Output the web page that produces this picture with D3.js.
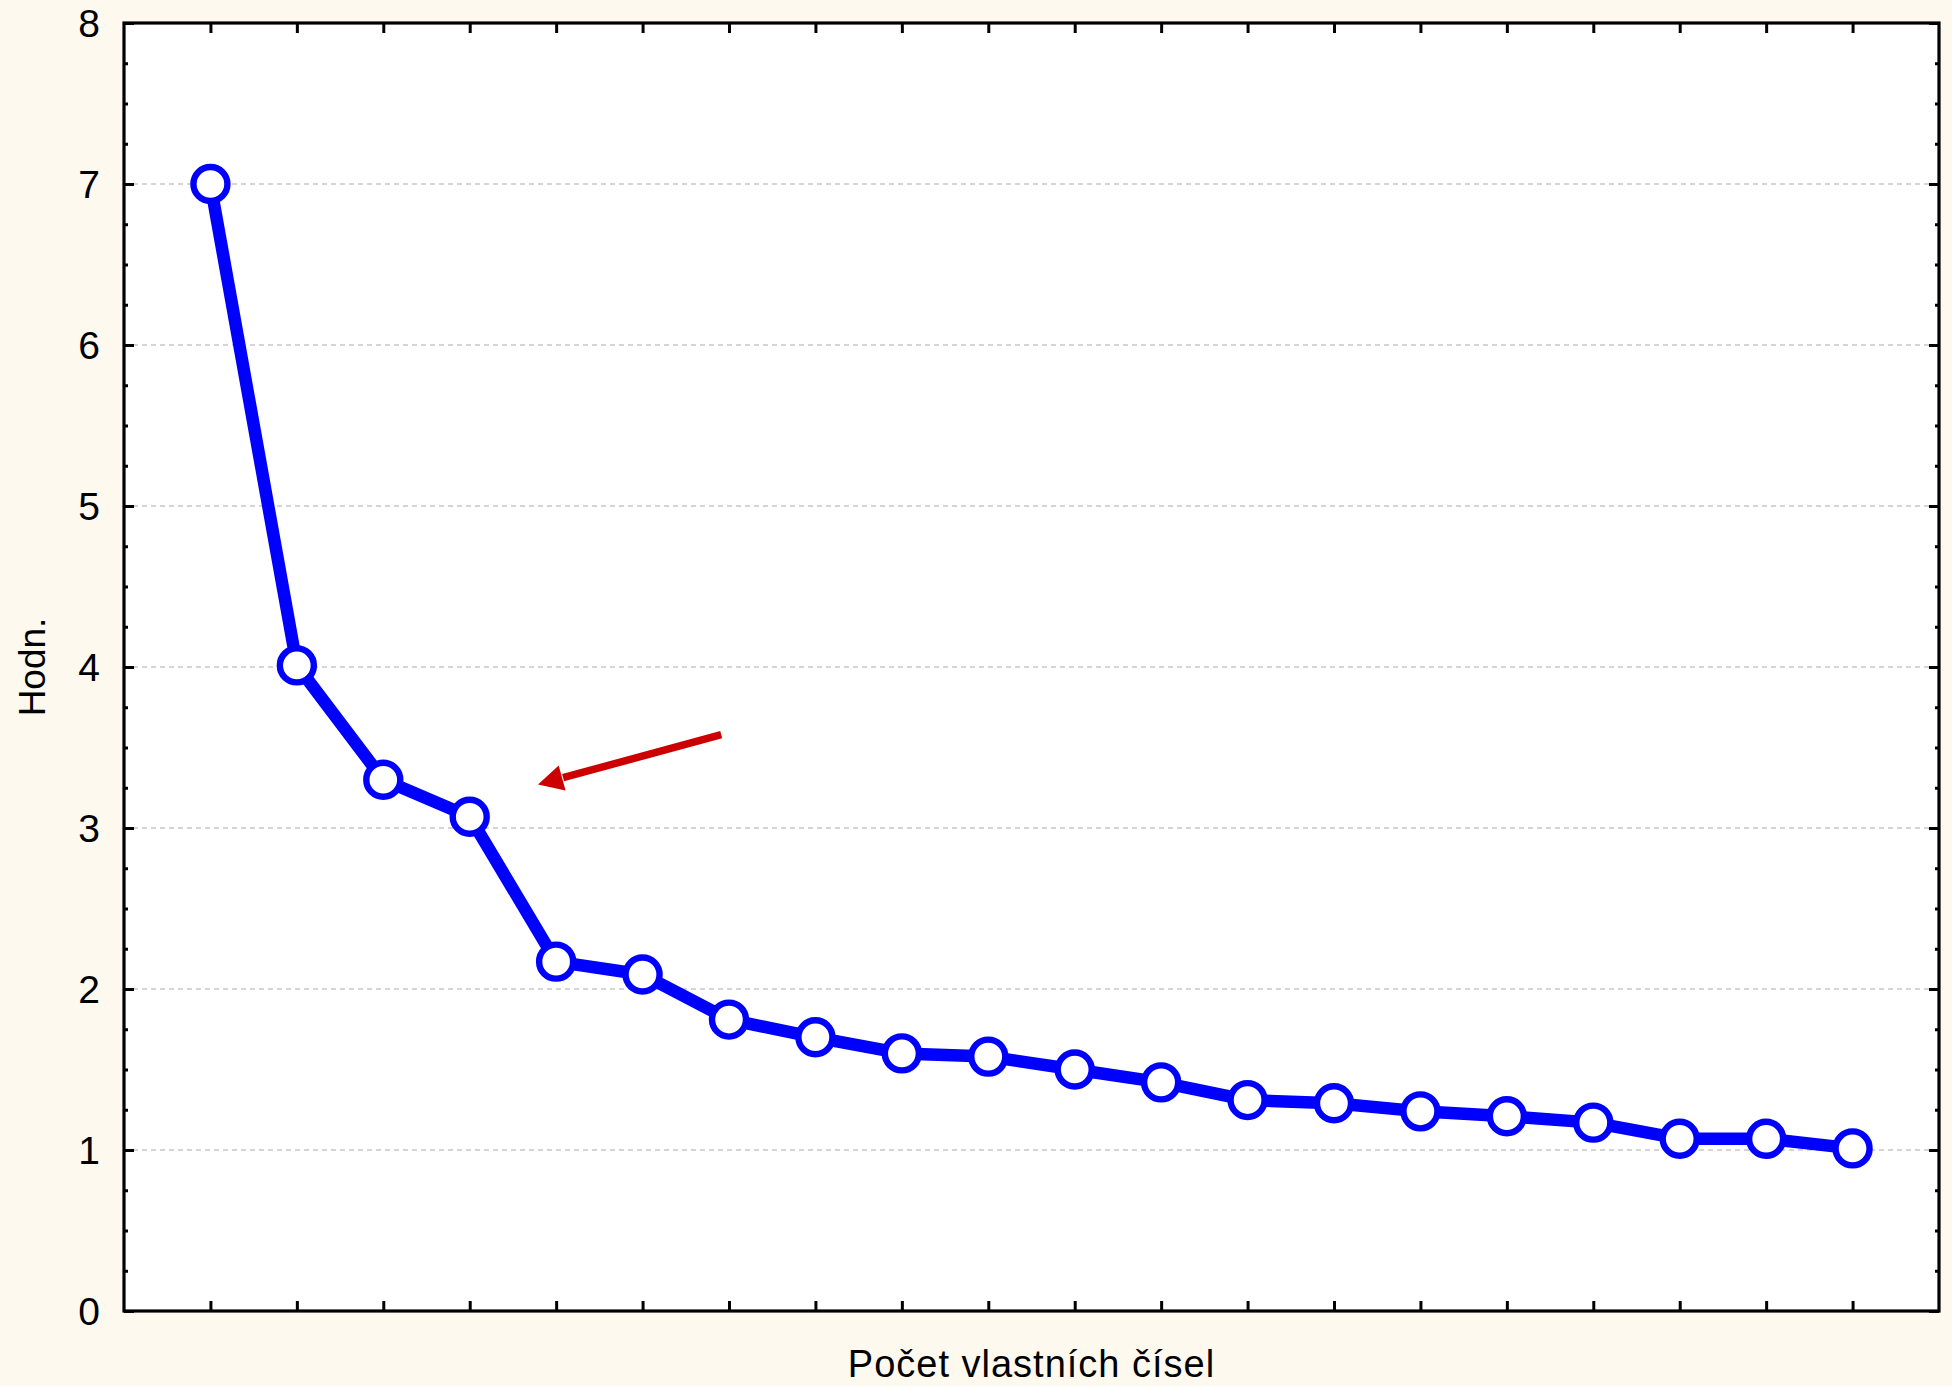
<!DOCTYPE html>
<html>
<head>
<meta charset="utf-8">
<script src="https://cdn.jsdelivr.net/npm/d3@7/dist/d3.min.js"></script>
<style>
  html, body { margin: 0; padding: 0; background: #fdf9ef; }
  svg { display: block; }
  text { font-family: "Liberation Sans", Arial, sans-serif; fill: #000; }
</style>
</head>
<body>
<svg id="chart" width="1952" height="1386"></svg>
<script>
// ---- data ----
const components = d3.range(1, 21); // 1..20
const eigenvalues = [7.00, 4.01, 3.30, 3.07, 2.17, 2.09, 1.81, 1.70, 1.60, 1.58,
                     1.50, 1.42, 1.31, 1.29, 1.24, 1.21, 1.17, 1.07, 1.07, 1.01];
const yTicks = [0, 1, 2, 3, 4, 5, 6, 7, 8];
const yGridValues = [1, 2, 3, 4, 5, 6, 7];
const xTitle = "Počet vlastních čísel";
const yTitle = "Hodn.";
// annotation arrow in data units: from tail to tip
const arrowTail = [6.91, 3.58];
const arrowTip = [4.79, 3.27];

// ---- layout ----
const W = 1952, H = 1386;
const m = { left: 124, top: 23, right: 13, bottom: 75 };
const x0 = m.left, x1 = W - m.right, y0 = H - m.bottom, y1 = m.top;

const svg = d3.select("#chart");
svg.append("rect").attr("width", W).attr("height", H).attr("fill", "#fdf9ef");

const x = d3.scaleLinear().domain([0, 21]).range([x0, x1]);
const y = d3.scaleLinear().domain([0, 8]).range([y0, y1]);

// plot background
svg.append("rect").attr("x", x0).attr("y", y1).attr("width", x1 - x0).attr("height", y0 - y1).attr("fill", "#fff");

// grid
svg.append("g").selectAll("line").data(yGridValues).join("line")
  .attr("x1", x0).attr("x2", x1)
  .attr("y1", d => y(d)).attr("y2", d => y(d))
  .attr("stroke", "#c8c8c8").attr("stroke-width", 1.3).attr("stroke-dasharray", "5,4");

// axes with inward ticks
const tickStyle = g => { g.select(".domain").remove(); g.selectAll(".tick line").attr("stroke", "#000").attr("stroke-width", 3); g.selectAll("text").remove(); };

svg.append("g").attr("transform", `translate(0,${y0})`)
  .call(d3.axisBottom(x).tickValues(components).tickSize(-10)).call(tickStyle);
svg.append("g").attr("transform", `translate(0,${y1})`)
  .call(d3.axisTop(x).tickValues(components).tickSize(-10)).call(tickStyle);

const yMinor = d3.range(0, 8.01, 0.25).filter(v => Math.abs(v - Math.round(v)) > 1e-6);
svg.append("g").attr("transform", `translate(${x0},0)`)
  .call(d3.axisLeft(y).tickValues(yMinor).tickSize(-4)).call(tickStyle);
svg.append("g").attr("transform", `translate(${x1},0)`)
  .call(d3.axisRight(y).tickValues(yMinor).tickSize(-4)).call(tickStyle);
svg.append("g").attr("transform", `translate(${x0},0)`)
  .call(d3.axisLeft(y).tickValues(yTicks).tickSize(-10)).call(tickStyle);
svg.append("g").attr("transform", `translate(${x1},0)`)
  .call(d3.axisRight(y).tickValues(yTicks).tickSize(-10)).call(tickStyle);

// y tick labels
svg.append("g").selectAll("text").data(yTicks).join("text")
  .attr("x", x0 - 24).attr("y", d => y(d)).attr("dy", "0.36em")
  .attr("text-anchor", "end").attr("font-size", 39).text(d => d);

// frame
svg.append("rect").attr("x", x0).attr("y", y1).attr("width", x1 - x0).attr("height", y0 - y1)
  .attr("fill", "none").attr("stroke", "#000").attr("stroke-width", 3.2);

// line
const line = d3.line().x((d, i) => x(components[i])).y(d => y(d));
svg.append("path").datum(eigenvalues).attr("d", line)
  .attr("fill", "none").attr("stroke", "#0000ff").attr("stroke-width", 12.5).attr("stroke-linejoin", "round");

// markers
svg.append("g").selectAll("circle").data(eigenvalues).join("circle")
  .attr("cx", (d, i) => x(components[i])).attr("cy", d => y(d)).attr("r", 17)
  .attr("fill", "#fff").attr("stroke", "#0000ff").attr("stroke-width", 6.4);

// arrow annotation (shaft + head polygon)
const tx = x(arrowTail[0]), ty = y(arrowTail[1]), hx = x(arrowTip[0]), hy = y(arrowTip[1]);
const dx = tx - hx, dy = ty - hy, len = Math.hypot(dx, dy);
const ux = dx / len, uy = dy / len, px = -uy, py = ux;
const headLen = 25, headHalf = 13;
const bx = hx + ux * headLen, by = hy + uy * headLen;
svg.append("line").attr("x1", tx).attr("y1", ty).attr("x2", bx + ux * 1).attr("y2", by + uy * 1)
  .attr("stroke", "#cc0000").attr("stroke-width", 7.5);
svg.append("path")
  .attr("d", `M${hx},${hy} L${bx + px * headHalf},${by + py * headHalf} L${bx - px * headHalf},${by - py * headHalf} Z`)
  .attr("fill", "#cc0000");

// axis titles
svg.append("text").attr("x", (x0 + x1) / 2).attr("y", 1377).attr("text-anchor", "middle")
  .attr("font-size", 38).attr("letter-spacing", 1).text(xTitle);
svg.append("text").attr("transform", `translate(45,${(y0 + y1) / 2}) rotate(-90)`)
  .attr("text-anchor", "middle").attr("font-size", 37).text(yTitle);
</script>
</body>
</html>
